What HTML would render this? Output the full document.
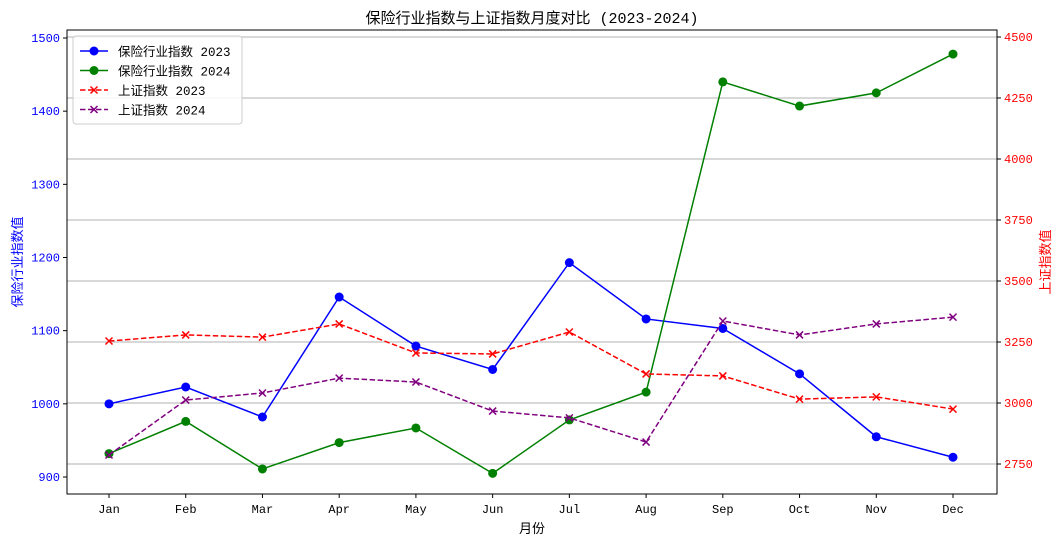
<!DOCTYPE html>
<html><head><meta charset="utf-8"><style>
body{margin:0;background:#fff;}
svg text{font-family:"Liberation Mono","Noto Sans CJK SC",monospace;}
</style></head><body>
<svg id="c" width="1062" height="544" xmlns="http://www.w3.org/2000/svg">
<text x="532" y="23" text-anchor="middle" font-size="15" fill="#000">保险行业指数与上证指数月度对比 (2023-2024)</text>
<g id="grid"></g>
<rect x="67" y="30" width="930" height="464" fill="none" stroke="#000" stroke-width="1"/>
<g id="axes"></g>
<g id="series"></g>
<text x="532" y="533" text-anchor="middle" font-size="13">月份</text>
<text transform="translate(22,262) rotate(-90)" text-anchor="middle" font-size="13" fill="blue">保险行业指数值</text>
<text transform="translate(1050,262) rotate(-90)" text-anchor="middle" font-size="13" fill="red">上证指数值</text>
<g id="legend"></g>
</svg>
<script>
const months=["Jan","Feb","Mar","Apr","May","Jun","Jul","Aug","Sep","Oct","Nov","Dec"];
const ins2023=[1000,1023,982,1146,1079,1047,1193,1116,1103,1041,955,927];
const ins2024=[932,976,911,947,967,905,978,1016,1440,1407,1425,1478];
const sh2023=[3254,3279,3270,3324,3205,3201,3291,3119,3111,3016,3025,2975];
const sh2024=[2787,3012,3041,3102,3086,2967,2939,2840,3336,3279,3324,3352];
const leftTicks=[900,1000,1100,1200,1300,1400,1500];
const rightTicks=[2750,3000,3250,3500,3750,4000,4250,4500];
const NS="http://www.w3.org/2000/svg";
const L=67,R=997,T=30,B=494;
const x=i=>109+i*(953-109)/(months.length-1);
const yL=v=>477-(v-900)*(477-38)/600;
const yR=v=>464-(v-2750)*(464-37)/1750;
function mk(tag,attrs,parent){const e=document.createElementNS(NS,tag);for(const k in attrs)e.setAttribute(k,attrs[k]);document.getElementById(parent).appendChild(e);return e;}
rightTicks.forEach(v=>{const y=yR(v);
 const g=mk('line',{x1:L,x2:R,y1:y,y2:y,stroke:'#b0b0b0','stroke-width':1},'grid');
 
 
 const t=mk('line',{x1:R,x2:R+4,y1:y,y2:y,stroke:'#000'},'axes');
 
 
 const tx=mk('text',{x:R+7,y:y+4,'font-size':12,fill:'red'},'axes');tx.textContent=v;
 
 
});
leftTicks.forEach(v=>{const y=yL(v);
 const t=mk('line',{x1:L-4,x2:L,y1:y,y2:y,stroke:'#000'},'axes');
 
 
 const tx=mk('text',{x:L-7,y:y+4,'font-size':12,fill:'blue','text-anchor':'end'},'axes');tx.textContent=v;
 
 
});
months.forEach((m,i)=>{
 const t=mk('line',{x1:x(i),x2:x(i),y1:B,y2:B+4,stroke:'#000'},'axes');
 
 
 const tx=mk('text',{x:x(i),y:B+19,'font-size':12,'text-anchor':'middle'},'axes');tx.textContent=m;
 
 
});
function series(data,yf,color,dash,marker,name){
 const pts=data.map((v,i)=>x(i)+','+yf(v)).join(' ');
 const pl=mk('polyline',{points:pts,fill:'none',stroke:color,'stroke-width':1.5,'stroke-dasharray':dash?'5.5,2.5':'none'},'series');
 
 
 data.forEach((v,i)=>drawMarker(x(i),yf(v),color,marker,name));
}
function drawMarker(cx,cy,color,marker,name,parent){
 parent=parent||'series';
 let m;
 if(marker==='o'){m=mk('circle',{cx:cx,cy:cy,r:4.5,fill:color},parent);}
 else{m=mk('path',{d:`M${cx-3.5},${cy-3.5}L${cx+3.5},${cy+3.5}M${cx-3.5},${cy+3.5}L${cx+3.5},${cy-3.5}`,stroke:color,'stroke-width':1.5},parent);}
 
 
}
series(ins2023,yL,'blue',false,'o','insurance-2023');
series(ins2024,yL,'green',false,'o','insurance-2024');
series(sh2023,yR,'red',true,'x','shanghai-2023');
series(sh2024,yR,'purple',true,'x','shanghai-2024');
const lb=mk('rect',{x:73,y:36,width:169,height:88,rx:3,fill:'#fff','fill-opacity':0.85,stroke:'#ccc'},'legend');


const legendLabels=["保险行业指数 2023","保险行业指数 2024","上证指数 2023","上证指数 2024"];
const legendColors=['blue','green','red','purple'];
legendLabels.forEach((s,i)=>{const y=51+i*19.5;const c=legendColors[i];const isX=i>1;
 const ln=mk('line',{x1:80,x2:108,y1:y,y2:y,stroke:c,'stroke-width':1.5,'stroke-dasharray':isX?'5.5,2.5':'none'},'legend');
 
 
 drawMarker(94,y,c,isX?'x':'o','legend','legend');
 const t=mk('text',{x:118,y:y+5,'font-size':12.5},'legend');t.textContent=s;
 
 
});
</script>
</body></html>
